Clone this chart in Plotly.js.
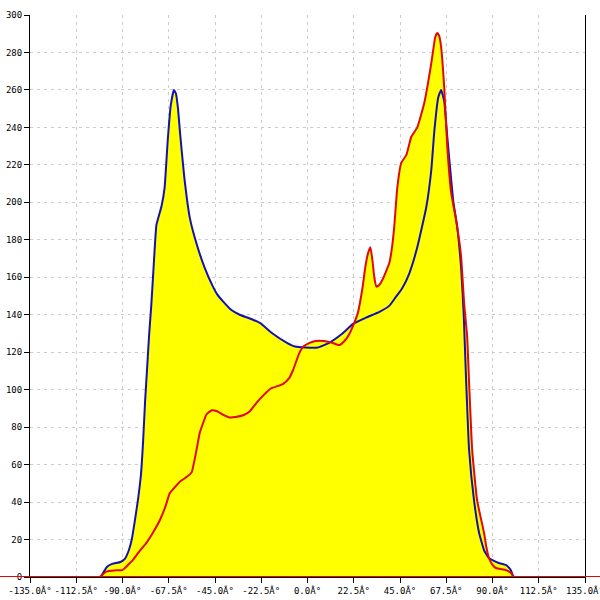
<!DOCTYPE html>
<html>
<head>
<meta charset="utf-8">
<script src="https://cdn.plot.ly/plotly-3.0.1.min.js"></script>
<style>html,body{margin:0;padding:0;background:#fff;}#chart{width:600px;height:600px;}</style>
</head>
<body>
<div id="chart"></div>
<script>
// Blue series (angle in degrees, count)
const blueX = [-100.5,-99,-97.5,-95,-91,-89,-87,-85.5,-84,-82.5,-81,-80,-79,-78,-77,-76,-75,-73.5,-72,-71,-69.5,-68,-66.5,-65,-64,-63,-62,-60,-57.3,-54,-50,-46,-44,-41,-37,-33,-28,-23,-17,-10,-6,-1,5,10.5,17,22,28.5,35,40,43,46,49.5,53.4,57.8,60.2,61.7,63.6,65,66.5,68,69.9,71,72.8,74.8,76,77.2,78.6,81,83.5,86,88.3,90,93,96.6,98,99,100,100.5];
const blueY = [0,3,5.5,7,8,9.5,14,20,30,41,55,72,94,112,130,145,163,188,194,198,208,233,252,260,258,250,237,214,192,178,165,155,151,147,142.5,140,138,135.5,130,125,123,122.5,122.5,125,130,135,138.5,141.5,145,149.5,154,162,176,197.5,217,238,256,260,254,235,212,200,187,164,140,104,68,41,23.5,14,10,9,7.5,6.4,5,3.5,0.5,0];
// Red series
const redX = [-101,-99,-97.5,-94,-90,-88.8,-86.4,-85,-81.6,-78.2,-75,-71.8,-69,-67,-64.5,-62,-58,-56.3,-54,-52.4,-49,-46.5,-44,-41,-38,-35,-31,-28,-24.8,-21,-18,-12,-9,-7,-4,-2,1,4,8,12,15.5,18,20,22.5,24.5,26.7,28.2,29.5,30.6,31.6,32.5,33.5,35,36.4,39.8,41,42.2,43.7,45.6,48.1,50.5,53.4,56.8,60.2,62.1,63.1,64,65,66.5,68,69.9,72.3,74,74.8,76.2,77.7,78.6,80.1,82.5,85.9,87,88.3,90,91.7,96.6,99,100,100.5];
const redY = [0,2,3,3.5,3.7,4.8,7.5,9,14,18.5,24,30.4,38,44.8,48,51,54,56,67.8,77,87,89,88.5,86.5,85.2,85.4,86.5,88.5,93,97.5,100.5,103,106,110.5,119.5,123,125,126,126,125,123.8,126,129,135,141,154,166,173,176,169,160,155,156,158.5,167.6,175,187,208,221,225.3,235,240,253,274,288,290.4,289,283,261.6,229.5,205,190.6,178,170,146,128,104,68,41,23.5,16,10,6.5,4.8,3.7,2.1,0.5,0];
// Axis ticks
const xTickVals = [-135,-112.5,-90,-67.5,-45,-22.5,0,22.5,45,67.5,90,112.5,135];
const xTickText = ["-135.0Â°","-112.5Â°","-90.0Â°","-67.5Â°","-45.0Â°","-22.5Â°","0.0Â°","22.5Â°","45.0Â°","67.5Â°","90.0Â°","112.5Â°","135.0Â°"];
const yTickVals = [0,20,40,60,80,100,120,140,160,180,200,220,240,260,280,300];

const BLUE = '#1212b4', RED = '#e00808', YELLOW = '#ffff00';
const shapeCfg = {shape:'spline', smoothing:0.4};

const traces = [
  {x: blueX, y: blueY, type:'scatter', mode:'lines', fill:'tozeroy', fillcolor:YELLOW, line:Object.assign({width:0, color:YELLOW}, shapeCfg), hoverinfo:'skip', showlegend:false},
  {x: redX, y: redY, type:'scatter', mode:'lines', fill:'tozeroy', fillcolor:YELLOW, line:Object.assign({width:0, color:YELLOW}, shapeCfg), hoverinfo:'skip', showlegend:false},
  {x: blueX, y: blueY, type:'scatter', mode:'lines', line:Object.assign({width:2, color:BLUE}, shapeCfg), showlegend:false},
  {x: redX, y: redY, type:'scatter', mode:'lines', line:Object.assign({width:2, color:RED}, shapeCfg), showlegend:false}
];

const tickFont = {family:'DejaVu Sans Mono, monospace', size:9, color:'#000'};
const layout = {
  width:600, height:600,
  margin:{l:30, r:15, t:15, b:23, pad:0},
  paper_bgcolor:'#fff', plot_bgcolor:'#fff',
  showlegend:false,
  xaxis:{
    range:[-135,135], tickmode:'array', tickvals:xTickVals, ticktext:xTickText,
    ticks:'outside', ticklen:5, tickcolor:'#000', tickwidth:1,
    showline:true, linecolor:'#000', linewidth:1, mirror:false,
    showgrid:true, gridcolor:'#cccccc', griddash:'3px,4px', gridwidth:1,
    zeroline:false, tickfont:tickFont, ticklabeloverflow:'allow', fixedrange:true
  },
  yaxis:{
    range:[0,300], tickmode:'array', tickvals:yTickVals,
    ticks:'outside', ticklen:5, tickcolor:'#000', tickwidth:1,
    showline:true, linecolor:'#000', linewidth:1, mirror:true,
    showgrid:true, gridcolor:'#cccccc', griddash:'3px,4px', gridwidth:1,
    zeroline:false, tickfont:tickFont, ticklabeloverflow:'allow', fixedrange:true
  },
  shapes:[
    {type:'line', xref:'paper', yref:'y', x0:-0.06, x1:1.04, y0:0, y1:0, line:{color:RED, width:2}, layer:'above'}
  ]
};
Plotly.newPlot('chart', traces, layout, {displayModeBar:false, staticPlot:true});
</script>
</body>
</html>
